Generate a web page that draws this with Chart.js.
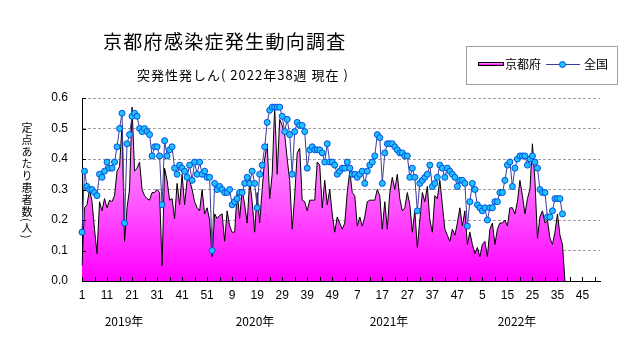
<!DOCTYPE html>
<html><head><meta charset="utf-8">
<script src="https://cdn.jsdelivr.net/npm/chart.js@4/dist/chart.umd.min.js"></script>
<style>
html,body{margin:0;padding:0;background:#fff;}
#wrap{position:relative;width:631px;height:347px;overflow:hidden;font-family:"Noto Sans CJK JP","Noto Sans",sans-serif;color:#000;}
canvas{position:absolute;left:0;top:0;}
.t{position:absolute;white-space:nowrap;line-height:1;}
.yr{position:absolute;white-space:nowrap;line-height:1;font-size:12px;transform:translateX(-50%);top:315px;}
</style></head><body>
<div id="wrap">
<canvas id="c" width="631" height="347"></canvas>
<div class="t" style="left:103px;top:31px;font-size:19px;letter-spacing:1.3px;">京都府感染症発生動向調査</div>
<div class="t" style="left:137px;top:68px;font-size:13px;letter-spacing:1px;">突発性発しん( 2022年38週 現在 )</div>
<div class="t" style="left:21px;top:122px;font-size:11px;writing-mode:vertical-rl;letter-spacing:1px;">定点あたり患者数(人)</div>
<div style="position:absolute;left:466px;top:46px;width:150px;height:37px;border:1px solid #a0a0a0;">
  <div style="position:absolute;left:11px;top:15px;width:24px;height:2px;border:1px solid #000;background:linear-gradient(#ffa0ff,#ff00ff);"></div>
  <div class="t" style="left:38px;top:11px;font-size:12px;">京都府</div>
  <div style="position:absolute;left:79px;top:17px;width:34px;height:1px;background:#3c3c9c;"></div>
  <div style="position:absolute;left:92px;top:14px;width:5px;height:5px;border-radius:50%;background:#20c0ff;border:1px solid #0050e0;"></div>
  <div class="t" style="left:117px;top:11px;font-size:12px;">全国</div>
</div>
<div class="yr" style="left:124px;">2019年</div>
<div class="yr" style="left:255px;">2020年</div>
<div class="yr" style="left:389px;">2021年</div>
<div class="yr" style="left:517px;">2022年</div>
</div>
<script>
const tickLabels = ['1','11','21','31','41','51','9','19','29','39','49','7','17','27','37','47','5','15','25','35','45'];
const weekSlots = 208;

const kyoto2019 = [0.05,0.24,0.25,0.30,0.26,0.17,0.09,0.26,0.23,0.27,
 0.24,0.265,0.26,0.28,0.36,0.375,0.51,0.13,0.24,0.30,
 0.57,0.36,0.37,0.39,0.30,0.28,0.27,0.265,0.29,0.29,
 0.30,0.29,0.05,0.37,0.33,0.265,0.27,0.205,0.32,0.25,
 0.35,0.25,0.33,0.33,0.30,0.26,0.24,0.23,0.30,0.22,
 0.24,0.20];
const kyoto2020 = [0.08,0.22,0.205,0.215,0.22,0.13,0.23,0.18,0.16,0.16,
 0.29,0.205,0.30,0.25,0.19,0.33,0.26,0.16,0.29,0.19,
 0.30,0.40,0.45,0.27,0.35,0.57,0.35,0.53,0.51,0.48,
 0.40,0.33,0.17,0.28,0.42,0.435,0.265,0.26,0.23,0.265,
 0.265,0.265,0.39,0.38,0.24,0.33,0.25,0.30,0.22,0.16,
 0.21,0.19];
const kyoto2021 = [0.17,0.19,0.29,0.36,0.29,0.28,0.18,0.21,0.18,0.21,
 0.26,0.265,0.265,0.265,0.30,0.28,0.17,0.26,0.17,0.29,
 0.34,0.30,0.35,0.27,0.23,0.24,0.29,0.25,0.16,0.23,
 0.11,0.20,0.29,0.26,0.31,0.20,0.16,0.28,0.27,0.33,
 0.25,0.17,0.15,0.13,0.17,0.15,0.19,0.24,0.18,0.23,
 0.12,0.16];
const kyoto2022 = [0.12,0.09,0.11,0.08,0.12,0.13,0.08,0.17,0.19,0.12,
 0.17,0.19,0.19,0.20,0.18,0.24,0.24,0.22,0.26,0.33,
 0.28,0.22,0.27,0.30,0.45,0.33,0.14,0.21,0.23,0.19,
 0.20,0.14,0.12,0.16,0.22,0.15,0.12,0];

const national2019 = [0.16,0.36,0.31,0.30,0.30,0.29,0.28,0.35,0.34,0.36,
 0.39,0.37,0.37,0.39,0.44,0.50,0.55,0.19,0.45,0.48,
 0.54,0.55,0.54,0.50,0.49,0.50,0.49,0.48,0.41,0.44,
 0.44,0.41,0.25,0.46,0.41,0.43,0.44,0.37,0.35,0.38,
 0.37,0.36,0.34,0.38,0.33,0.39,0.35,0.39,0.35,0.36,
 0.34,0.34];
const national2020 = [0.10,0.32,0.30,0.31,0.30,0.29,0.29,0.30,0.25,0.26,
 0.27,0.29,0.29,0.32,0.34,0.32,0.36,0.32,0.24,0.35,
 0.38,0.44,0.52,0.56,0.57,0.57,0.57,0.57,0.54,0.49,
 0.53,0.48,0.35,0.49,0.52,0.51,0.51,0.49,0.37,0.43,
 0.44,0.43,0.43,0.43,0.42,0.39,0.45,0.39,0.39,0.38,
 0.35,0.36];
const national2021 = [0.37,0.37,0.39,0.37,0.35,0.35,0.34,0.35,0.36,0.32,
 0.36,0.38,0.39,0.41,0.48,0.47,0.32,0.42,0.45,0.45,
 0.45,0.44,0.43,0.42,0.42,0.41,0.41,0.34,0.37,0.34,
 0.23,0.32,0.33,0.34,0.35,0.38,0.31,0.32,0.34,0.38,
 0.37,0.34,0.37,0.36,0.35,0.34,0.31,0.33,0.33,0.32,
 0.18,0.26];
const national2022 = [0.32,0.30,0.25,0.24,0.23,0.24,0.20,0.24,0.24,0.26,
 0.26,0.29,0.29,0.33,0.38,0.39,0.31,0.37,0.40,0.41,
 0.41,0.41,0.38,0.40,0.41,0.39,0.37,0.30,0.29,0.29,
 0.21,0.21,0.23,0.27,0.27,0.27,0.22];

const kyoto = [...kyoto2019, ...kyoto2020, ...kyoto2021, ...kyoto2022];
const national = [...national2019, ...national2020, ...national2021, ...national2022];
const labels = [];
for (let i = 0; i < weekSlots; i++) labels.push(i % 10 === 0 ? tickLabels[i / 10] : '');

const numFont = {family: '"Liberation Sans","Arial",sans-serif', size: 12};

const inwardTicks = {
  id: 'inwardTicks',
  afterDraw(chart) {
    const {ctx, chartArea: a, scales: {x, y}} = chart;
    ctx.save();
    ctx.strokeStyle = '#000';
    ctx.lineWidth = 1;
    ctx.beginPath();
    for (let i = 0; i < labels.length; i += 5) {
      const px = Math.round(x.getPixelForValue(i)) + 0.5;
      ctx.moveTo(px, a.bottom);
      ctx.lineTo(px, a.bottom - 4);
    }
    y.ticks.forEach(t => {
      const py = Math.round(y.getPixelForValue(t.value)) + 0.5;
      ctx.moveTo(a.left, py);
      ctx.lineTo(a.left + 4, py);
    });
    ctx.stroke();
    ctx.restore();
  }
};

function areaGradient(context) {
  const chart = context.chart;
  const a = chart.chartArea;
  if (!a) return '#ff00ff';
  const g = chart.ctx.createLinearGradient(0, a.top, 0, a.bottom);
  g.addColorStop(0, '#ffb0ff');
  g.addColorStop(0.45, '#ff70ff');
  g.addColorStop(1, '#ff00ff');
  return g;
}

new Chart(document.getElementById('c'), {
  type: 'line',
  data: {
    labels: labels,
    datasets: [
      {label: '全国', data: national, order: 0, borderColor: '#3c3c9c', borderWidth: 1,
       pointRadius: 3, pointBackgroundColor: '#20c0ff', pointBorderColor: '#0050e0', pointBorderWidth: 1,
       fill: false, tension: 0},
      {label: '京都府', data: kyoto, order: 1, borderColor: '#000', borderWidth: 1, pointRadius: 0,
       fill: 'origin', backgroundColor: areaGradient, tension: 0}
    ]
  },
  options: {
    responsive: false, animation: false, devicePixelRatio: 1,
    layout: {padding: {left: 0, right: 31, top: 98, bottom: 0}},
    plugins: {legend: {display: false}, tooltip: {enabled: false}},
    scales: {
      x: {
        type: 'category', offset: false,
        grid: {display: false, drawTicks: false},
        border: {display: true, color: '#000', width: 1},
        ticks: {autoSkip: false, maxRotation: 0, minRotation: 0, padding: 7, font: numFont, color: '#000'},
        afterFit: s => { s.height = 66; }
      },
      y: {
        min: 0, max: 0.6,
        ticks: {stepSize: 0.1, padding: 14, font: numFont, color: '#000', callback: v => v.toFixed(1)},
        grid: {drawTicks: false, color: c => (c.tick && c.tick.value === 0) ? 'rgba(0,0,0,0)' : '#a0a0a0'},
        border: {display: true, color: '#000', width: 1, dash: [3, 2]},
        afterFit: s => { s.width = 82; }
      }
    }
  },
  plugins: [inwardTicks]
});
</script>
</body></html>
